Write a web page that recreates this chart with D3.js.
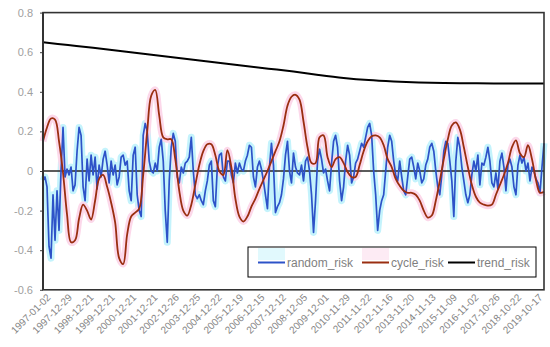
<!DOCTYPE html>
<html>
<head>
<meta charset="utf-8">
<script src="https://cdn.jsdelivr.net/npm/d3@7"></script>
<style>
body {margin: 0; background: #fff}
svg {display: block; font-family: "Liberation Sans", Arial, sans-serif}
</style>
</head>
<body>
<div id="canvas"></div>
<script>
// Display variables
var total_width = 550
var total_height = 347
var margin = {top: 12.6, right: 6, bottom: 57.2, left: 43}
var width = total_width - margin.left - margin.right
var height = total_height - margin.top - margin.bottom

// Data variables
var tick_labels = ["1997-01-02","1997-12-29","1998-12-21","1999-12-21","2000-12-21","2001-12-21",
    "2002-12-26","2003-12-25","2004-12-22","2005-12-19","2006-12-15","2007-12-12","2008-12-05",
    "2009-12-01","2010-11-29","2011-11-22","2012-11-16","2013-11-20","2014-11-13","2015-11-09",
    "2016-11-02","2017-10-26","2018-10-22","2019-10-17"]
var n_obs = 5716      // observations on the category axis
var tick_every = 244  // one label every n observations
var y_ticks = [0.8, 0.6, 0.4, 0.2, 0, -0.2, -0.4, -0.6]

var random_risk = [
    -0.05,-0.03,-0.08,-0.38,-0.44,-0.12,-0.35,-0.1,-0.3,0.0,0.22,-0.03,0.01,-0.02,0.02,-0.1,-0.07,0.1,0.22,0.18,
    -0.08,-0.15,0.06,-0.05,0.08,-0.02,0.07,-0.09,0.03,-0.03,0.06,0.1,0.03,-0.06,0.05,-0.02,0.03,-0.07,-0.03,0.07,
    0.08,0.03,
    0.05,-0.1,-0.15,0.08,0.12,-0.12,-0.2,-0.23,0.18,0.24,0.2,0.05,0.0,-0.01,0.04,0.0,0.12,0.16,0.05,-0.2,
    -0.36,-0.05,0.12,0.19,0.15,-0.03,-0.06,0.02,-0.01,0.04,0.05,0.07,0.17,0.0,-0.12,-0.14,-0.12,-0.15,-0.17,-0.1,
    -0.05,0.03,0.05,-0.15,
    -0.18,0.02,0.08,0.09,-0.03,-0.05,0.05,0.05,-0.02,-0.06,0.04,-0.01,0.04,0.01,0.0,0.05,0.08,0.13,0.12,-0.03,
    -0.08,0.02,0.05,0.01,-0.05,-0.12,-0.19,0.02,0.14,0.03,-0.21,-0.18,-0.16,-0.12,-0.04,0.08,0.15,0.0,-0.06,0.09,
    0.02,-0.01,
    -0.02,0.03,-0.05,0.05,0.07,0.0,-0.12,-0.31,-0.15,0.05,0.11,0.06,-0.01,0.01,-0.05,-0.1,0.04,0.15,0.18,0.12,
    -0.05,-0.15,-0.08,0.05,0.13,0.08,-0.06,-0.03,0.04,0.06,0.1,0.14,0.12,0.17,0.22,0.24,0.18,0.0,-0.12,-0.3,
    -0.2,-0.15,
    -0.12,0.0,0.12,0.18,0.15,0.05,-0.02,-0.05,0.05,-0.03,-0.1,-0.12,-0.03,0.06,0.07,0.02,-0.04,0.04,0.0,-0.06,
    -0.04,0.03,0.06,0.12,0.14,0.1,0.0,-0.08,-0.12,-0.02,0.1,0.15,0.14,0.05,-0.05,-0.23,0.05,0.17,0.12,0.02,
    -0.05,-0.12,-0.16,
    -0.12,-0.02,0.05,0.0,0.08,-0.07,0.04,0.03,0.07,0.12,0.05,-0.06,-0.08,-0.01,-0.09,0.05,0.09,0.02,-0.1,0.03,
    0.06,0.02,-0.08,-0.12,0.03,0.08,0.04,0.07,0.0,0.04,-0.05,0.02,0.0,-0.04,-0.06,-0.11,0.02,0.14]

var cycle_risk = [
    0.15,0.22,0.265,0.26,0.15,-0.01,-0.22,-0.36,-0.35,-0.24,-0.17,-0.2,-0.245,-0.15,-0.04,-0.02,-0.08,-0.16,-0.26,-0.44,
    -0.47,-0.32,-0.23,-0.21,-0.19,-0.02,0.2,0.38,0.41,0.28,0.17,0.16,0.16,0.06,-0.1,-0.2,-0.225,-0.17,-0.07,0.03,
    0.1,0.135,0.135,0.08,0.0,-0.02,0.105,0.02,-0.14,-0.23,-0.255,-0.23,-0.18,-0.14,-0.09,-0.045,0.0,0.05,0.1,0.15,
    0.23,0.33,0.375,0.385,0.36,0.25,0.12,0.04,0.04,0.17,0.18,0.07,0.02,0.06,0.07,0.04,-0.005,-0.03,-0.03,0.03,
    0.1,0.15,0.175,0.18,0.17,0.13,0.06,0.02,-0.04,-0.075,-0.1,-0.11,-0.11,-0.12,-0.15,-0.2,-0.235,-0.225,-0.15,-0.05,
    0.06,0.16,0.23,0.245,0.21,0.12,0.02,-0.07,-0.13,-0.16,-0.17,-0.175,-0.17,-0.12,-0.07,-0.02,0.04,0.12,0.155,0.09,
    0.07,0.13,0.06,-0.045,-0.11,-0.105]

var trend_risk = [0.650,0.636,0.622,0.607,0.592,0.577,0.562,0.547,0.532,0.517,0.502,0.485,0.470,0.459,0.452,
    0.447,0.444,0.443,0.442,0.442,0.442]

var series_names = ["random_risk", "cycle_risk", "trend_risk"]
var series_data = [random_risk, cycle_risk, trend_risk]
var series_colours = ["#2d52c8", "#9a2e10", "#000000"]
var glow_colours = ["#c4f3fc", "#fcd8ea", null]
var series_widths = [1.7, 1.8, 2]
var label_grey = "#a0a0a0"

// ==================================================================================
// AXES

var svg_outer = d3.select("#canvas").append("svg").attr("width", total_width).attr("height", total_height)
var svg = svg_outer.append("g").attr("transform", "translate(" + margin.left + "," + margin.top + ")")

var x = d3.scaleLinear().domain([0, n_obs - 1]).range([0, width])
var y = d3.scaleLinear().domain([-0.6, 0.8]).range([height, 0])

// y axis
var y_axis = svg.append("g")
    .attr("class", "y_axis")
    .call(d3.axisLeft(y).tickValues(y_ticks).tickSize(3).tickPadding(7).tickFormat(d => String(d)))
y_axis.select(".domain").remove()
y_axis.selectAll("line").attr("stroke", "#404040")
y_axis.selectAll("text").attr("fill", label_grey).style("font-size", "11px")

// x labels (category axis, labels kept low)
svg.append("g").attr("class", "x_labels")
    .selectAll("text")
    .data(tick_labels)
    .enter().append("text")
    .attr("transform", (d, i) => "translate(" + (x(i * tick_every) + 3) + "," + (height + 3) + ") rotate(-45)")
    .attr("text-anchor", "end")
    .attr("dy", "0.75em")
    .attr("fill", "#858585")
    .style("font-size", "10px")
    .text(d => d)

// ==================================================================================
// SERIES

var line = d3.line()
    .x((d, i, arr) => x(i * (n_obs - 1) / (arr.length - 1)))
    .y(d => y(d))

// soft halo behind the two lower series
series_data.forEach(function (data, k) {
    if (glow_colours[k]) {
        svg.append("path")
            .datum(data)
            .attr("fill", "none")
            .attr("stroke", glow_colours[k])
            .attr("stroke-width", 7)
            .attr("stroke-linejoin", "round")
            .attr("d", line.curve(k == 0 ? d3.curveLinear : d3.curveCatmullRom))
    }
})

// zero line, above the halo
svg.append("line")
    .attr("x1", 0).attr("x2", width)
    .attr("y1", y(0)).attr("y2", y(0))
    .attr("stroke", "#262626").attr("stroke-width", 1.5)

series_data.forEach(function (data, k) {
    svg.append("path")
        .datum(data)
        .attr("class", series_names[k])
        .attr("fill", "none")
        .attr("stroke", series_colours[k])
        .attr("stroke-width", series_widths[k])
        .attr("stroke-linejoin", "round")
        .attr("d", line.curve(k == 0 ? d3.curveLinear : d3.curveCatmullRom))
})

// frame round the plot area
svg.append("rect")
    .attr("x", 0).attr("y", 0).attr("width", width).attr("height", height)
    .attr("fill", "none").attr("stroke", "#333").attr("stroke-width", 1.6)
svg.append("line")
    .attr("x1", 0).attr("x2", 0).attr("y1", 0).attr("y2", height)
    .attr("stroke", "#333").attr("stroke-width", 2)

// ==================================================================================
// LEGEND

var legend = svg_outer.append("g").attr("class", "legend").attr("transform", "translate(248,247)")
legend.append("rect")
    .attr("width", 288).attr("height", 30)
    .attr("fill", "#fff").attr("stroke", "#000").attr("stroke-width", 1)
var legend_x = [10, 114, 200]
series_names.forEach(function (name, k) {
    var g = legend.append("g").attr("transform", "translate(" + legend_x[k] + ",0)")
    if (glow_colours[k]) {
        g.append("rect").attr("x", 0).attr("y", 1).attr("width", 27).attr("height", 12)
            .attr("fill", glow_colours[k]).attr("opacity", 0.5)
    }
    g.append("line")
        .attr("x1", 0).attr("x2", 27).attr("y1", 15.5).attr("y2", 15.5)
        .attr("stroke", series_colours[k]).attr("stroke-width", 2)
    g.append("text")
        .attr("x", 29).attr("y", 15.5).attr("dy", "0.35em")
        .attr("fill", "#7f7f7f")
        .style("font-size", "12px")
        .text(name)
})
</script>
</body>
</html>
